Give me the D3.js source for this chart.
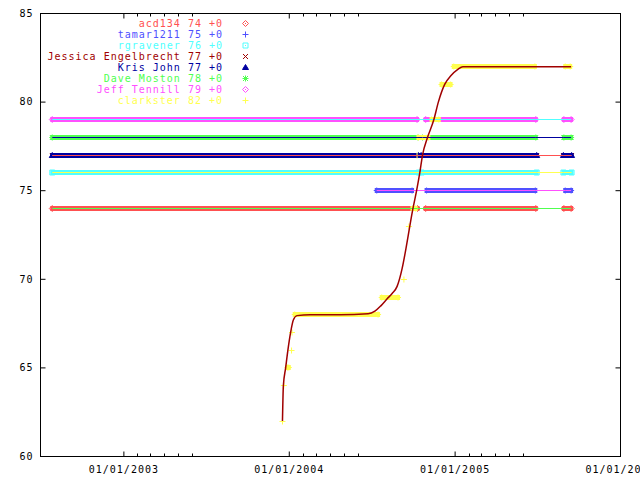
<!DOCTYPE html>
<html><head><meta charset="utf-8">
<script src="https://cdn.jsdelivr.net/npm/d3@7"></script>
<style>body{margin:0;background:#fff}</style>
</head><body><svg id="c" width="640" height="480"></svg>
<script>
// ---------------- data ----------------
const names   = ["acd134","tamar1211","rgravener","Jessica Engelbrecht","Kris John","Dave Moston","Jeff Tennill","clarkster"];
const ratings = [74,75,76,77,77,78,79,82];
const changes = ["+0","+0","+0","+0","+0","+0","+0","+0"];
const markerTypes = ["diamond","plus","box","cross","triangle","star","diamond","plus"];

// runs of daily observations: [first date, last date, value]
const acd134Runs    = [["2002-07-27","2004-10-10",74],["2004-10-28","2005-06-28",74],["2005-08-29","2005-09-14",74]];
const tamar1211Runs = [["2004-07-12","2004-09-28",75],["2004-10-30","2005-06-27",75],["2005-09-01","2005-09-14",75]];
const rgravenerRuns = [["2002-07-27","2004-10-13",76],["2004-10-19","2005-06-30",76],["2005-08-28","2005-09-15",76]];
const jessicaRuns   = [["2002-07-27","2004-10-12",77],["2004-10-18","2005-06-30",77],["2005-08-28","2005-09-15",77]];
const krisJohnRuns  = [["2002-07-27","2004-10-12",77],["2004-10-18","2005-06-30",77],["2005-08-28","2005-09-15",77]];
const daveRuns      = [["2002-07-27","2004-10-11",78],["2004-10-21","2005-06-28",78],["2005-08-29","2005-09-14",78]];
const jeffRuns      = [["2002-07-27","2004-10-09",79],["2004-10-28","2005-06-28",79],["2005-08-29","2005-09-14",79]];
const clarksterRuns = [
  ["2003-12-17","2003-12-17",62],["2003-12-20","2003-12-20",64],["2003-12-28","2003-12-31",65],
  ["2004-01-06","2004-01-06",66],["2004-01-07","2004-01-07",67],["2004-01-13","2004-07-15",68],
  ["2004-07-23","2004-08-28",69],["2004-09-10","2004-09-10",70],["2004-09-21","2004-09-21",73],
  ["2004-09-29","2004-10-06",74],["2004-10-09","2004-10-09",77],["2004-10-12","2004-11-03",78],
  ["2004-11-10","2004-11-26",79],["2004-12-02","2004-12-22",81],["2004-12-29","2005-06-26",82],
  ["2005-09-01","2005-09-12",82]];
const allRuns = [acd134Runs,tamar1211Runs,rgravenerRuns,jessicaRuns,krisJohnRuns,daveRuns,jeffRuns,clarksterRuns];

// smoothed clarkster trend line: [date, value]
const clarksterTrend = [
  ["2003-12-17",62.0],["2003-12-19",64.0],["2003-12-24",65.0],["2003-12-29",66.0],
  ["2004-01-04",67.0],["2004-01-10",67.7],["2004-01-18",67.95],["2004-02-16",68.0],
  ["2004-04-22",68.0],["2004-06-23",68.05],["2004-07-08",68.2],["2004-07-21",68.5],
  ["2004-08-04",68.9],["2004-08-15",69.2],["2004-08-26",69.6],["2004-09-06",70.6],
  ["2004-09-15",71.8],["2004-09-23",73.0],["2004-09-30",74.0],["2004-10-08",75.0],
  ["2004-10-15",76.0],["2004-10-21",77.0],["2004-11-01",78.0],["2004-11-15",79.0],
  ["2004-11-25",80.0],["2004-12-09",81.0],["2004-12-23",81.5],["2005-01-07",81.85],
  ["2005-01-18",82.0],["2005-02-25",82.0],["2005-09-14",82.0]];

const yTicks = [60,65,70,75,80,85];
const xTickDates = ["2003-01-01","2004-01-01","2005-01-01","2006-01-01"];
const minorTickDates = ["2003-02-01","2003-03-01","2003-04-01","2003-05-01","2003-06-01",
                        "2004-02-01","2004-03-01","2004-04-01","2004-05-01","2004-06-01",
                        "2005-02-01","2005-03-01","2005-04-01","2005-05-01","2005-06-01"];
const xDomain = ["2002-07-01","2006-01-01"];
const yDomain = [60,85];

// ---------------- styles ----------------
const pointColors = ["#ff5050","#5050ff","#50ffff","#a00000","#0000a0","#50ff50","#ff50ff","#ffff50"];
const lineColors  = ["#50ff50","#ff50ff","#ffff50","#5050ff","#ff5050","#0000a0","#50ffff","#a00000"];
const FONT = "'DejaVu Sans Mono', 'Liberation Mono', monospace";

const P = s => new Date(s + "T00:00:00Z");
const svg = d3.select("#c");
const L = 40.5, R = 620.5, T = 13.5, B = 456.5;
const x = d3.scaleUtc().domain(xDomain.map(P)).range([L, R]);
const y = d3.scaleLinear().domain(yDomain).range([B, T]);
const yc = v => Math.round(y(v) - 0.5) + 0.5;

function marker(g, type, cx, cy, color) {
  const p = d3.path();
  let fill = "none";
  switch (type) {
    case "diamond":
      p.moveTo(cx-3,cy); p.lineTo(cx,cy-3); p.lineTo(cx+3,cy); p.lineTo(cx,cy+3); p.closePath();
      p.moveTo(cx-0.5,cy); p.lineTo(cx+0.5,cy);
      break;
    case "plus":
      p.moveTo(cx-3,cy); p.lineTo(cx+3,cy); p.moveTo(cx,cy-3); p.lineTo(cx,cy+3);
      break;
    case "box":
      p.rect(cx-2.5,cy-2.5,5,5); p.moveTo(cx-0.5,cy); p.lineTo(cx+0.5,cy);
      break;
    case "cross":
      p.moveTo(cx-2.5,cy-2.5); p.lineTo(cx+2.5,cy+2.5); p.moveTo(cx-2.5,cy+2.5); p.lineTo(cx+2.5,cy-2.5);
      break;
    case "triangle":
      p.moveTo(cx,cy-3); p.lineTo(cx+3,cy+2); p.lineTo(cx-3,cy+2); p.closePath();
      fill = color;
      break;
    case "star":
      p.moveTo(cx-3,cy); p.lineTo(cx+3,cy); p.moveTo(cx,cy-3); p.lineTo(cx,cy+3);
      p.moveTo(cx-2.5,cy-2.5); p.lineTo(cx+2.5,cy+2.5); p.moveTo(cx-2.5,cy+2.5); p.lineTo(cx+2.5,cy-2.5);
      break;
  }
  g.append("path").attr("d", p.toString()).attr("fill", fill)
    .attr("stroke", color).attr("stroke-width", 1);
}

// ---------------- marker bands ----------------
const gPts = svg.append("g");
allRuns.forEach((runs, i) => {
  const g = gPts.append("g");
  runs.forEach(([s, e, v]) => {
    const x0 = x(P(s)), x1 = x(P(e)), cy = yc(v);
    if (x1 > x0) {
      g.append("rect").attr("x", x0 - 2).attr("y", cy - 2.5)
        .attr("width", x1 - x0 + 4).attr("height", 5).attr("fill", pointColors[i]);
    }
    marker(g, markerTypes[i], x0, cy, pointColors[i]);
    if (x1 > x0) marker(g, markerTypes[i], x1, cy, pointColors[i]);
  });
});

// ---------------- connecting lines ----------------
const gLines = svg.append("g");
allRuns.forEach((runs, i) => {
  if (i === allRuns.length - 1) return;
  const pts = [];
  runs.forEach(([s, e, v]) => { pts.push([P(s), v]); if (e !== s) pts.push([P(e), v]); });
  const line = d3.line().x(d => x(d[0])).y(d => yc(d[1]));
  gLines.append("path").attr("d", line(pts)).attr("fill", "none")
    .attr("stroke", lineColors[i]).attr("stroke-width", 1);
});
// clarkster smoothed trend
gLines.append("path")
  .attr("d", d3.line().x(d => x(P(d[0]))).y(d => y(d[1])).curve(d3.curveMonotoneX)(clarksterTrend))
  .attr("fill", "none").attr("stroke", lineColors[7]).attr("stroke-width", 1.5);

// ---------------- axes ----------------
function styleText(g) {
  g.selectAll("text").attr("font-family", FONT).attr("font-size", 10)
    .attr("letter-spacing", 1).attr("fill", "#000");
  g.selectAll("line").attr("stroke", "#000");
}
svg.append("g").attr("transform", `translate(0,${B})`)
  .call(d3.axisBottom(x).tickValues(xTickDates.map(P)).tickFormat(d3.utcFormat("%m/%d/%Y"))
    .tickSizeInner(-5).tickSizeOuter(0).tickPadding(9).offset(0))
  .call(g => g.select(".domain").remove()).call(styleText);
svg.append("g").attr("transform", `translate(0,${T})`)
  .call(d3.axisTop(x).tickValues(xTickDates.map(P)).tickFormat(() => "")
    .tickSizeInner(-5).tickSizeOuter(0).offset(0))
  .call(g => g.select(".domain").remove()).call(styleText);
svg.append("g").attr("transform", `translate(${L},0)`)
  .call(d3.axisLeft(y).tickValues(yTicks).tickFormat(d3.format("d"))
    .tickSizeInner(-5).tickSizeOuter(0).tickPadding(7).offset(0))
  .call(g => g.select(".domain").remove()).call(styleText);
svg.append("g").attr("transform", `translate(${R},0)`)
  .call(d3.axisRight(y).tickValues(yTicks).tickFormat(() => "")
    .tickSizeInner(-5).tickSizeOuter(0).offset(0))
  .call(g => g.select(".domain").remove()).call(styleText);

// minor ticks
const gMinor = svg.append("g").attr("stroke", "#000");
minorTickDates.map(P).forEach(d => {
  const xm = Math.round(x(d) - 0.5) + 0.5;
  gMinor.append("line").attr("x1", xm).attr("x2", xm).attr("y1", B).attr("y2", B - 3);
  gMinor.append("line").attr("x1", xm).attr("x2", xm).attr("y1", T).attr("y2", T + 3);
});

// border
svg.append("rect").attr("x", L).attr("y", T).attr("width", R - L).attr("height", B - T)
  .attr("fill", "none").attr("stroke", "#000").attr("stroke-width", 1);

// ---------------- legend ----------------
const gLeg = svg.append("g");
names.forEach((n, i) => {
  const cy = 23.5 + i * 11;
  gLeg.append("text").attr("x", 223).attr("y", cy + 3.7)
    .attr("text-anchor", "end").attr("font-family", FONT).attr("font-size", 10)
    .attr("letter-spacing", 1).attr("fill", pointColors[i])
    .attr("xml:space", "preserve").style("white-space", "pre")
    .text(`${n} ${ratings[i]} ${changes[i]}`);
  marker(gLeg, markerTypes[i], 245.5, cy, pointColors[i]);
});
</script></body></html>
